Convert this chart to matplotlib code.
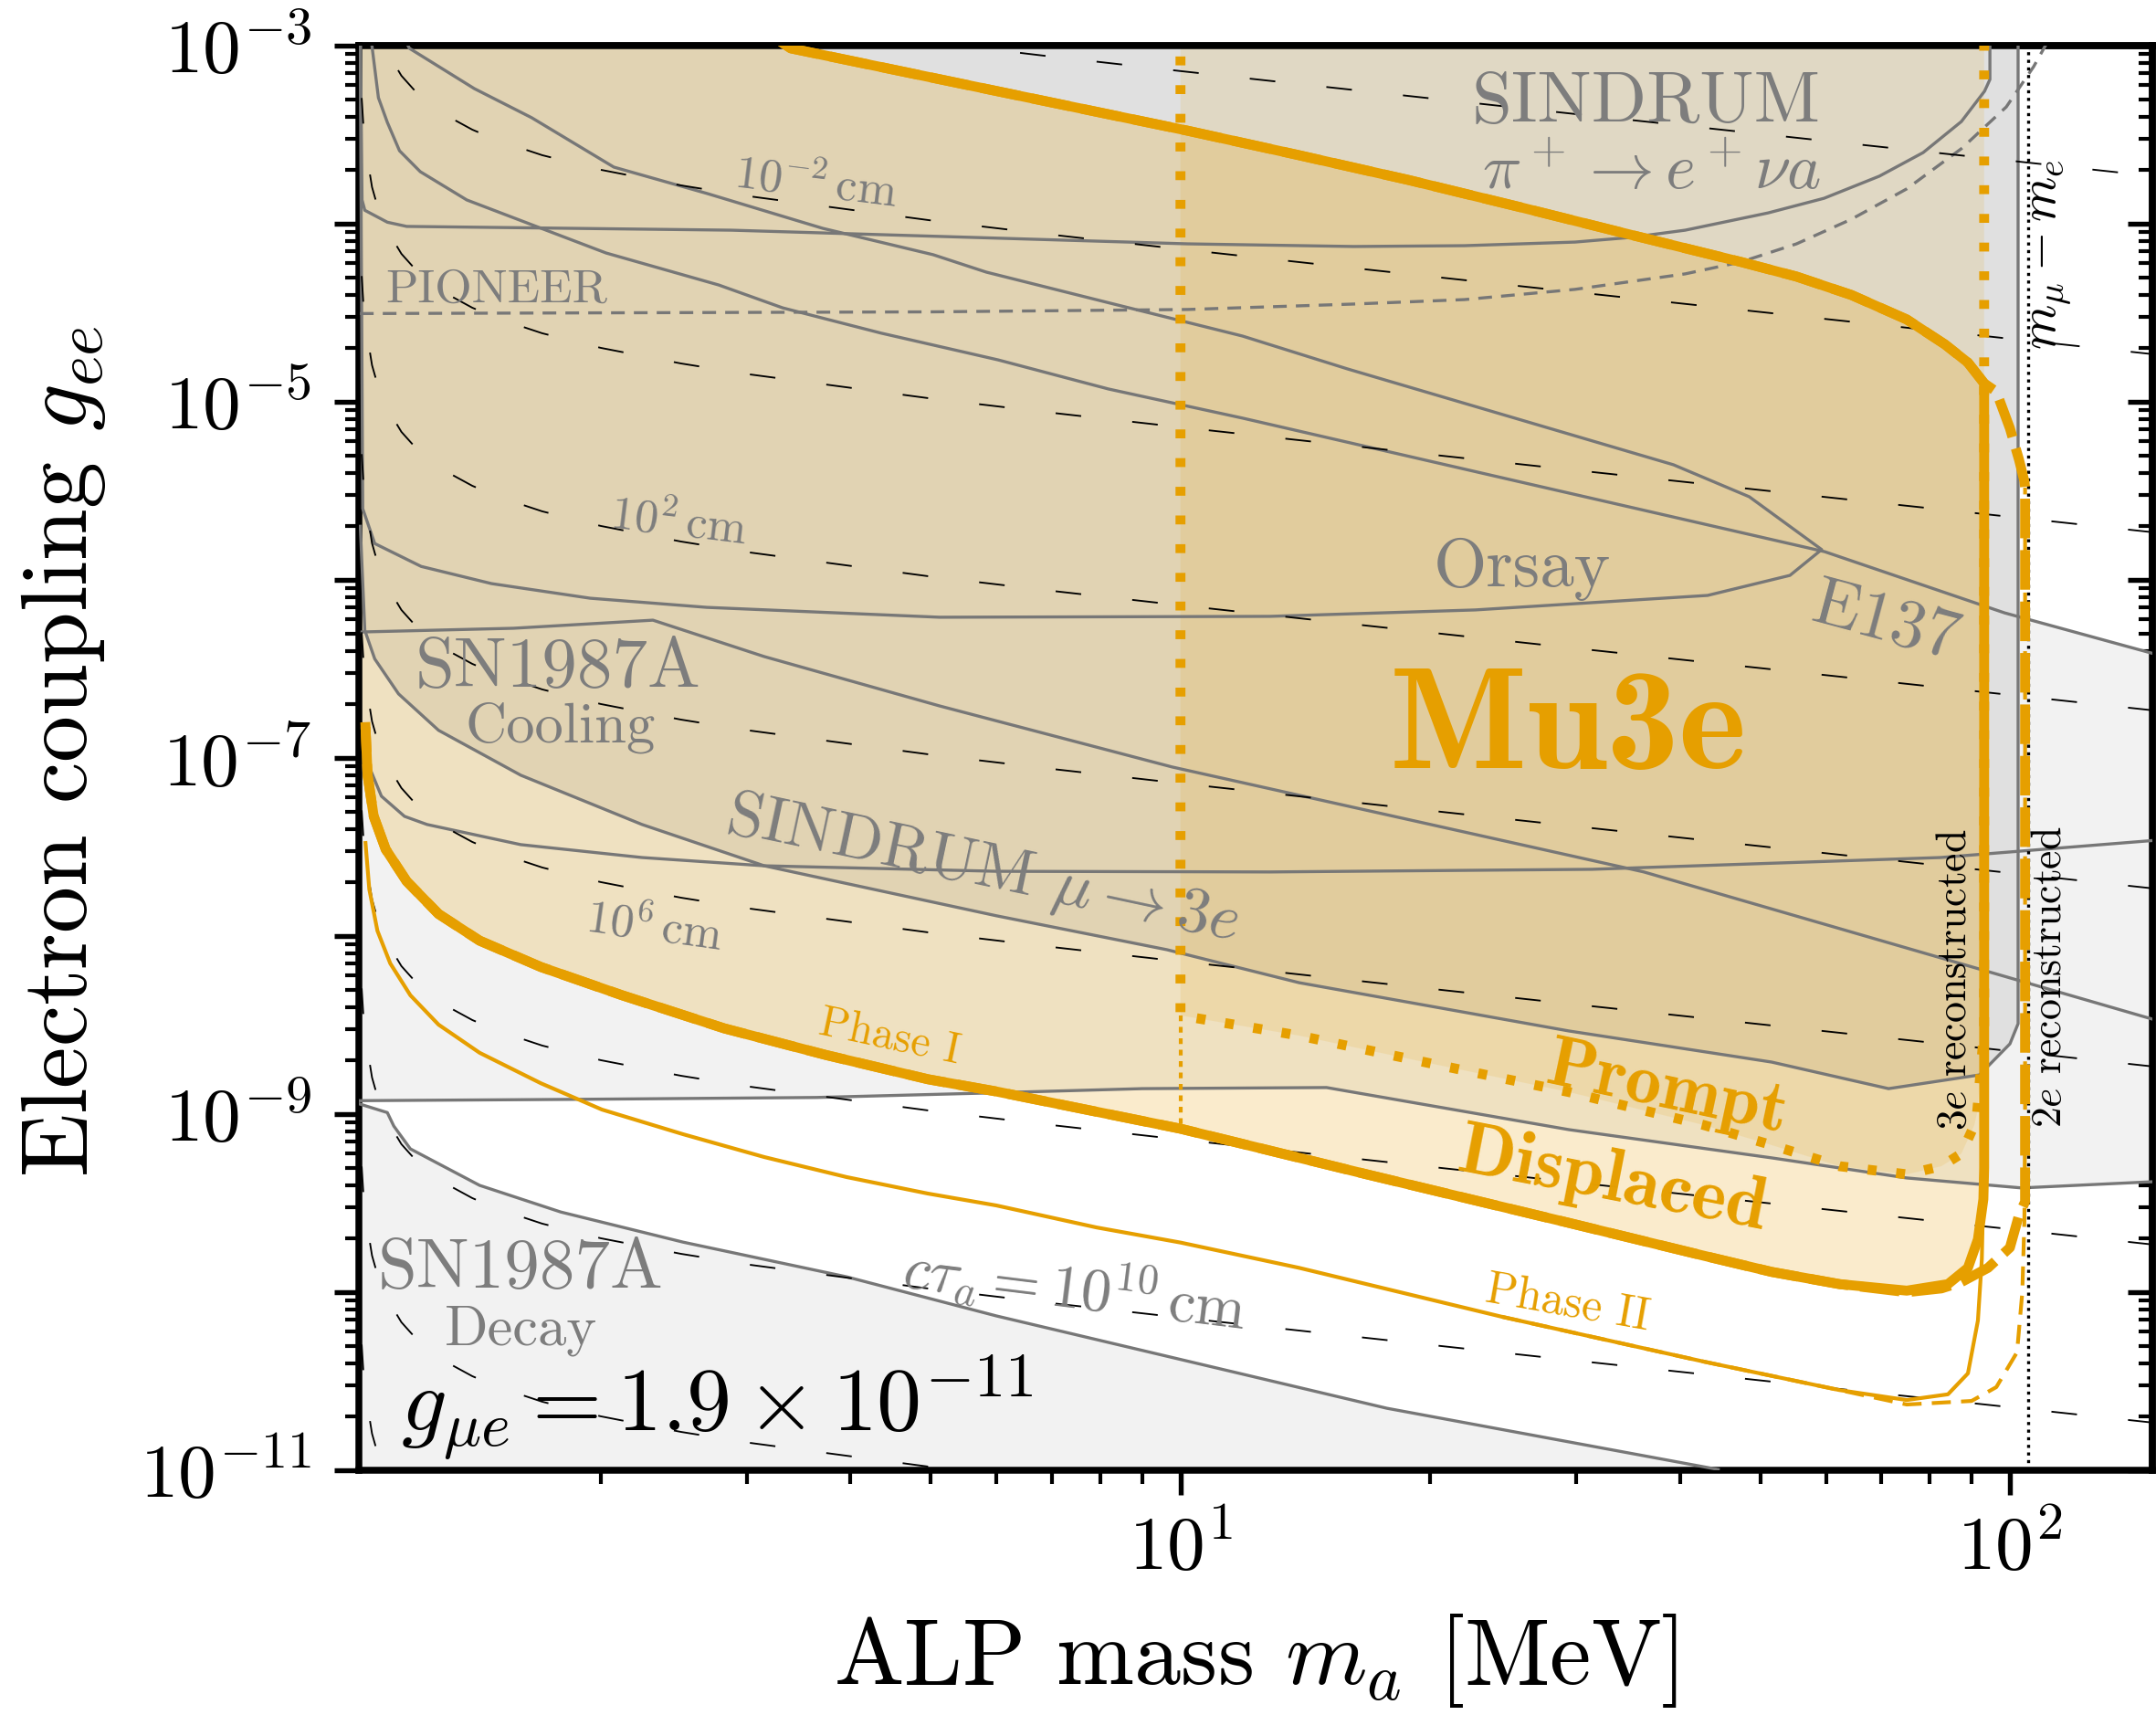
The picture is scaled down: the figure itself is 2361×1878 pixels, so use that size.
"""ALP electron coupling vs mass: existing limits and Mu3e reach."""

import numpy as np
import matplotlib
matplotlib.use('Agg')
from matplotlib import pyplot as plt
from matplotlib import ticker

plt.rcParams['font.family'] = 'serif'
plt.rcParams['font.serif'] = ['cmr10']
plt.rcParams['mathtext.fontset'] = 'cm'
plt.rcParams['axes.formatter.use_mathtext'] = True
plt.rcParams['axes.unicode_minus'] = False

GREY = '#777777'
GREY_TXT = '#7d7d7d'
ORANGE = '#E69F00'
LIGHT = '#F2F2F2'
DARK = '#E0E0E0'

# ---- existing limits: mass [MeV], coupling g_ee ----
decay_m = [1.024, 1.106, 1.126, 1.179, 1.429, 1.79, 2.514, 3.958, 5.997, 13.15, 17.73, 44.5]
decay_g = [1.14e-9, 1.02e-9, 8.57e-10, 6.38e-10, 3.98e-10, 2.82e-10, 1.91e-10, 1.22e-10, 7.36e-11,
           3.10e-11, 2.23e-11, 1.01e-11]

cool_lo_m = [1.024, 1.846, 3.64, 5.71, 8.99, 15.0, 29.4, 51.6, 75.1, 103.3, 150.0]
cool_lo_g = [1.19e-9, 1.21e-9, 1.24e-9, 1.31e-9, 1.39e-9, 1.41e-9, 8.18e-10, 5.68e-10, 4.38e-10, 3.85e-10, 4.18e-10]

flat_m = [1.045, 1.052, 1.088, 1.16, 1.235, 1.602, 2.243, 3.149, 5.997, 12.82, 31.35, 82.5, 150.0]
flat_g = [1.1e-7, 8.89e-8, 6.1e-8, 4.7e-8, 4.23e-8, 3.26e-8, 2.76e-8, 2.48e-8, 2.31e-8, 2.29e-8, 2.37e-8,
          2.76e-8, 3.45e-8]

e137_hi_m = [1.055, 1.06, 1.079, 1.106, 1.144, 1.212, 1.379, 1.698, 2.03, 2.775, 3.314,
             4.357, 6.026, 8.19, 11.88, 26.66, 59.8, 98.5, 150.0]
e137_hi_g = [1.5e-3, 9.89e-4, 5.1e-4, 3.71e-4, 2.57e-4, 1.96e-4, 1.36e-4, 9.4e-5, 6.85e-5, 4.53e-5, 3.37e-5,
             2.43e-5, 1.72e-5, 1.18e-5, 8.1e-6, 3.41e-6, 1.44e-6, 6.53e-7, 3.82e-7]

e137_lo_m = [1.031, 1.57, 2.312, 3.149, 5.123, 9.77, 36.2, 150.0]
e137_lo_g = [5.1e-7, 5.35e-7, 5.94e-7, 3.71e-7, 1.96e-7, 8.9e-8, 2.29e-8, 3.37e-9]

orsay_hi_m = [1.12, 1.176, 1.408, 1.651, 2.074, 2.685, 3.705, 5.033, 5.832, 8.31, 11.88, 15.9, 39.3, 48.5, 59.3]
orsay_hi_g = [1.5e-3, 9.66e-4, 5.74e-4, 3.94e-4, 2.08e-4, 1.48e-4, 9.42e-5, 6.70e-5, 5.35e-5, 3.54e-5,
              2.34e-5, 1.53e-5, 4.43e-6, 2.93e-6, 1.48e-6]
orsay_lo_m = [54.3, 43.2, 22.66, 12.82, 5.123, 2.685, 1.942, 1.477, 1.215, 1.068, 1.033, 1.025]
orsay_lo_g = [1.06e-6, 8.18e-7, 6.78e-7, 6.24e-7, 6.17e-7, 7.01e-7, 7.89e-7, 9.53e-7, 1.19e-6, 1.60e-6, 2.51e-6, 2e-3]

pi_m = [1.025, 1.031, 1.039, 1.106, 1.167, 2.875, 10.2, 16.18, 22.0, 29.9, 34.9, 40.6, 51.1, 59.7, 69.6,
        78.6, 87.4, 93.2, 94.6, 94.6]
pi_g = [2e-3, 1.36e-4, 1.19e-4, 1.02e-4, 9.66e-5, 9.2e-5, 7.71e-5, 7.45e-5, 7.53e-5, 7.89e-5, 8.38e-5,
        9.2e-5, 1.15e-4, 1.39e-4, 1.85e-4, 2.51e-4, 3.75e-4, 5.55e-4, 6.46e-4, 1.5e-3]

pioneer_m = [1.025, 5.0, 10.2, 16.18, 22.0, 29.9, 40.6, 47.4, 55.3, 64.4, 75.1, 87.4, 99.0, 106.8, 111.0]
pioneer_g = [3.13e-5, 3.2e-5, 3.3e-5, 3.54e-5, 3.75e-5, 4.28e-5, 5.23e-5, 6.1e-5, 7.71e-5, 1.06e-4,
             1.57e-4, 2.64e-4, 4.53e-4, 7.62e-4, 1.05e-3]

sindrum_m = [1.026, 1.039, 1.068, 1.141, 1.275, 1.602, 2.243, 3.149, 5.997, 9.63, 13.9, 29.4, 51.6, 71.4,
             91.9, 100.0, 102.3, 102.3]
sindrum_g = [2e-6, 5.2e-7, 3.6e-7, 2.29e-7, 1.43e-7, 8.0e-8, 4.23e-8, 2.48e-8, 1.30e-8, 8.38e-9, 5.47e-9,
             2.93e-9, 1.96e-9, 1.39e-9, 1.66e-9, 2.48e-9, 3.22e-9, 1e-2]

# iso-lifetime contours: coupling at 10 MeV and relative shape vs mass
ctau_m = [1.03, 1.035, 1.04, 1.06, 1.08, 1.1, 1.15, 1.2, 1.3, 1.4, 1.5, 1.7, 2.0, 2.5, 3.0, 5.0, 7.0,
          10.0, 20.0, 30.0, 50.0, 70.0, 100.0, 150.0]
ctau_rel = [70.6, 49.1, 38.6, 22.3, 16.4, 13.3, 9.42, 7.55, 5.66, 4.69, 4.09, 3.37, 2.79, 2.28, 1.99, 1.45,
            1.205, 1.0, 0.703, 0.573, 0.444, 0.375, 0.314, 0.256]
ctau_g10 = [7.2e-4, 7.2e-5, 7.2e-6, 7.2e-7, 7.2e-8, 7.2e-9, 7.2e-10, 7.2e-11, 7.2e-12, 7.2e-13]

# ---- Mu3e ----
p1_up_m = [3.3, 3.39, 10.2, 13.87, 18.84, 25.66, 34.9, 47.4, 55.3, 64.4, 75.1, 83.5, 89.0, 93.1]
p1_up_g = [1.05e-3, 9.66e-4, 3.33e-4, 2.43e-4, 1.76e-4, 1.24e-4, 8.67e-5, 6.1e-5, 5.05e-5, 3.98e-5,
           2.9e-5, 2.1e-5, 1.66e-5, 1.27e-5]
p1_lo_m = [1.041, 1.047, 1.065, 1.101, 1.167, 1.275, 1.429, 1.694, 2.122, 2.818, 3.734, 4.959, 5.997,
           10.0, 16.77, 29.4, 42.8, 51.6, 62.3, 75.1, 84.2, 89.0, 91.5, 92.9, 93.1]
p1_lo_g = [1.49e-7, 8.0e-8, 4.7e-8, 3.07e-8, 2.03e-8, 1.33e-8, 9.42e-9, 6.70e-9, 4.65e-9, 3.03e-9,
           2.15e-9, 1.57e-9, 1.34e-9, 8.28e-10, 4.59e-10, 2.45e-10, 1.60e-10, 1.30e-10, 1.11e-10,
           1.02e-10, 1.11e-10, 1.37e-10, 1.98e-10, 3.33e-10, 5.0e-10]
p1_2e_m = [96.3, 100.0, 102.6, 104.1, 104.3, 104.3, 102.6, 100.0, 94.1, 87.4, 82.7, 75.1]
p1_2e_g = [1.14e-5, 7.1e-6, 4.7e-6, 3.58e-6, 3.3e-6, 3.22e-10, 2.73e-10, 1.78e-10, 1.37e-10, 1.14e-10,
           1.05e-10, 1.0e-10]

prompt_m = [10.0, 10.0, 13.9, 20.2, 29.4, 42.8, 51.6, 62.3, 75.1, 82.7, 87.4, 90.6, 91.3, 91.9, 93.1, 93.1]
prompt_g = [1e-2, 3.58e-9, 2.76e-9, 1.91e-9, 1.33e-9, 8.67e-10, 6.7e-10, 5.1e-10, 4.59e-10, 5.1e-10,
            6.0e-10, 8.67e-10, 1.02e-9, 1.46e-9, 3.0e-9, 1e-2]

p2_m = [1.041, 1.052, 1.076, 1.115, 1.179, 1.275, 1.429, 1.694, 2.007, 2.514, 3.149, 3.958, 4.959, 5.997,
        7.92, 10.0, 13.9, 24.4, 42.8, 62.3, 75.1, 84.2, 89.0, 91.5, 92.5, 93.0, 93.0]
p2_g = [3.33e-8, 1.83e-8, 1.07e-8, 7.02e-9, 4.65e-9, 3.18e-9, 2.21e-9, 1.49e-9, 1.06e-9, 7.71e-10,
        5.74e-10, 4.43e-10, 3.58e-10, 3.07e-10, 2.31e-10, 1.9e-10, 1.37e-10, 7.28e-11, 4.07e-11, 2.82e-11,
        2.48e-11, 2.67e-11, 3.50e-11, 6.93e-11, 1.53e-10, 5e-10, 1e-5]
p2_2e_m = [24.4, 42.8, 62.3, 75.1, 89.9, 96.3, 102.0, 103.5, 104.1, 104.3, 104.3]
p2_2e_g = [7.28e-11, 4.07e-11, 2.82e-11, 2.34e-11, 2.45e-11, 2.93e-11, 4.6e-11, 1.0e-10, 2.5e-10, 1e-9, 3.3e-6]
p2_prompt_m = [10.0, 10.0]
p2_prompt_g = [3.58e-9, 8.3e-10]

M_MU_ME = 105.15

fig = plt.figure(figsize=(2361 / 300, 1878 / 300), dpi=300)
ax = fig.add_axes([393 / 2361, 268 / 1878, 1964 / 2361, 1560 / 1878])
ax.set_xscale('log')
ax.set_yscale('log')
ax.set_xlim(1.022, 148.5)
ax.set_ylim(1e-11, 1e-3)

# light grey excluded regions
ax.fill(decay_m + [decay_m[-1], 1.0], decay_g + [1e-13, 1e-13], color=LIGHT, lw=0, zorder=1)
ax.fill(cool_lo_m + e137_lo_m[::-1], cool_lo_g + e137_lo_g[::-1], color=LIGHT, lw=0, zorder=1)
ax.fill(e137_hi_m + e137_lo_m[::-1], e137_hi_g + e137_lo_g[::-1], color=LIGHT, lw=0, zorder=1)
ax.fill(orsay_hi_m + orsay_lo_m, orsay_hi_g + orsay_lo_g, color=LIGHT, lw=0, zorder=1)
ax.fill(pi_m + [1.0], pi_g + [1e-2], color=LIGHT, lw=0, zorder=1)
# SINDRUM mu -> 3e
ax.fill(sindrum_m + [1.0], sindrum_g + [1e-2], color=DARK, lw=0, zorder=1.2)

# Mu3e regions
p1_m = p1_up_m + p1_lo_m[::-1]
p1_g = p1_up_g + p1_lo_g[::-1]
ax.fill(p1_m + [1.0, 1.0, 3.3], p1_g + [1.49e-7, 1e-2, 1e-2], color=ORANGE, alpha=0.2, lw=0, zorder=1.4)
ax.fill(prompt_m, prompt_g, color=ORANGE, alpha=0.12, lw=0, zorder=1.5)

# grey limit lines
kw = dict(color=GREY, lw=0.8, zorder=3)
ax.plot(decay_m, decay_g, **kw)
ax.plot(cool_lo_m, cool_lo_g, **kw)
ax.plot(flat_m, flat_g, **kw)
ax.plot(e137_hi_m, e137_hi_g, **kw)
ax.plot(e137_lo_m, e137_lo_g, **kw)
ax.plot(orsay_hi_m + orsay_lo_m, orsay_hi_g + orsay_lo_g, **kw)
ax.plot(pi_m, pi_g, **kw)
ax.plot(sindrum_m, sindrum_g, **kw)
ax.plot(pioneer_m, pioneer_g, color=GREY, lw=0.8, ls=(0, (4.5, 3)), zorder=3)

# lifetime contours
rel = np.array(ctau_rel)
for g10 in ctau_g10:
    ax.plot(ctau_m, g10 * rel, color='black', lw=0.45, ls=(0, (15, 30)), zorder=3.5)

# Mu3e curves
ax.plot(p1_m, p1_g, color=ORANGE, lw=2.6, zorder=5, solid_joinstyle='round')
lo_part = [i for i, m in enumerate(p1_lo_m) if m < 75.0][::-1]
ax.plot(p1_up_m + p1_2e_m + [p1_lo_m[i] for i in lo_part],
        p1_up_g + p1_2e_g + [p1_lo_g[i] for i in lo_part],
        color=ORANGE, lw=2.6, ls=(0, (4, 1.2)), zorder=5)
ax.plot(prompt_m, prompt_g, color=ORANGE, lw=2.6, ls=(0, (0.9, 2.0)), zorder=5)
ax.plot(p2_m, p2_g, color=ORANGE, lw=1.0, zorder=4.5)
ax.plot(p2_2e_m, p2_2e_g, color=ORANGE, lw=1.0, ls=(0, (5, 2.7)), zorder=4.5)
ax.plot(p2_prompt_m, p2_prompt_g, color=ORANGE, lw=1.0, ls=(0, (1.5, 1.5)), zorder=4.5)
ax.axvline(M_MU_ME, color='black', lw=0.8, ls=(0, (1, 1.5)), zorder=4.6)

# labels
tk = dict(color=GREY_TXT, ha='center', va='center', rotation_mode='anchor', zorder=6)
ax.text(36.4, 4.7e-4, 'SINDRUM', fontsize=19, **tk)
ax.text(37.0, 1.95e-4, r'$\pi^+\to e^+\nu a$', fontsize=17, **tk)
ax.text(25.8, 1.15e-6, 'Orsay', fontsize=18, **tk)
ax.text(70.9, 5.67e-7, 'E137', fontsize=18, rotation=-15, **tk)
ax.text(1.777, 3.18e-7, 'SN1987A', fontsize=18.5, **tk)
ax.text(1.79, 1.48e-7, 'Cooling', fontsize=15, **tk)
ax.text(1.496, 4.23e-5, 'PIONEER', fontsize=12.5, **tk)
ax.text(5.77, 2.34e-8, r'SINDRUM $\mu\to 3e$', fontsize=17, rotation=-12, **tk)
ax.text(1.602, 1.33e-10, 'SN1987A', fontsize=18.5, **tk)
ax.text(1.602, 6.1e-11, 'Decay', fontsize=15, **tk)
ax.text(3.63, 1.68e-4, r'$10^{-2}\,$cm', fontsize=12.5, rotation=-7, **tk)
ax.text(2.48, 2.1e-6, r'$10^{2}\,$cm', fontsize=12.5, rotation=-7, **tk)
ax.text(2.32, 1.11e-8, r'$10^{6}\,$cm', fontsize=12.5, rotation=-8, **tk)
ax.text(7.47, 1.05e-10, r'$c\tau_a = 10^{10}\,$cm', fontsize=16, rotation=-7, **tk)

ok = dict(color=ORANGE, ha='center', va='center', rotation_mode='anchor', zorder=6)
ax.text(29.3, 1.4e-7, 'Mu3e', fontsize=38, family='cmb10', **ok)
ax.text(38.6, 1.37e-9, 'Prompt', fontsize=19, family='cmb10', rotation=-12, **ok)
ax.text(33.2, 4.18e-10, 'Displaced', fontsize=19.5, family='cmb10', rotation=-11, **ok)
ax.text(4.457, 2.7e-9, 'Phase I', fontsize=11.5, rotation=-12, **ok)
ax.text(29.3, 8.57e-11, 'Phase II', fontsize=12, rotation=-10, **ok)

bk = dict(color='black', ha='center', va='center', rotation=90, zorder=6)
ax.text(85.9, 5.68e-9, r'$3e$ reconstructed', fontsize=11, **bk)
ax.text(111.8, 5.87e-9, r'$2e$ reconstructed', fontsize=11, **bk)
ax.text(112.1, 6.7e-5, r'$m_\mu - m_e$', fontsize=13.5, **bk)
ax.text(1.147, 1.66e-11, r'$g_{\mu e} = 1.9\times 10^{-11}$', fontsize=23.5, ha='left', va='baseline', zorder=6)

# axes, ticks
for s in ax.spines.values():
    s.set_linewidth(1.8)
ymaj = [10.0 ** e for e in range(-11, -2)]
yfmt = ticker.FuncFormatter(lambda v, p: r'$10^{%d}$' % round(np.log10(v)) if round(np.log10(v)) % 2 else '')
ax.yaxis.set_major_locator(ticker.FixedLocator(ymaj))
ax.yaxis.set_major_formatter(yfmt)
ax.yaxis.set_minor_locator(ticker.LogLocator(base=10, subs=np.arange(2, 10), numticks=30))
ax.yaxis.set_minor_formatter(ticker.NullFormatter())
ax.xaxis.set_major_locator(ticker.LogLocator(base=10, numticks=10))
ax.xaxis.set_minor_locator(ticker.LogLocator(base=10, subs=np.arange(2, 10), numticks=30))
ax.xaxis.set_minor_formatter(ticker.NullFormatter())
ax.tick_params(which='both', direction='out', labelsize=20)
ax.tick_params(which='major', length=6.5, width=1.3)
ax.tick_params(which='minor', length=3.5, width=1.0)
ax.tick_params(axis='y', pad=6)
ax.tick_params(axis='x', pad=5)

top = ax.secondary_xaxis('top')
top.xaxis.set_major_locator(ticker.LogLocator(base=10, numticks=10))
top.xaxis.set_minor_locator(ticker.LogLocator(base=10, subs=np.arange(2, 10), numticks=30))
top.tick_params(which='both', direction='in', labeltop=False)
top.tick_params(which='major', length=6.5, width=1.3)
top.tick_params(which='minor', length=3.5, width=1.0)
right = ax.secondary_yaxis('right')
right.yaxis.set_major_locator(ticker.FixedLocator(ymaj))
right.yaxis.set_minor_locator(ticker.LogLocator(base=10, subs=np.arange(2, 10), numticks=30))
right.tick_params(which='both', direction='in', labelright=False)
right.tick_params(which='major', length=6.5, width=1.3)
right.tick_params(which='minor', length=3.5, width=1.0)
for sec in (top, right):
    for s in sec.spines.values():
        s.set_linewidth(1.8)

fig.text(70 / 2361, 1 - 823 / 1878, r'Electron coupling $g_{ee}$', rotation=90, ha='center', va='center', fontsize=24.5)
fig.text(1375 / 2361, 1 - 1819 / 1878, r'ALP mass $m_a$ [MeV]', ha='center', va='center', fontsize=24.5)

plt.savefig('out.png', dpi=300)
plt.close()
